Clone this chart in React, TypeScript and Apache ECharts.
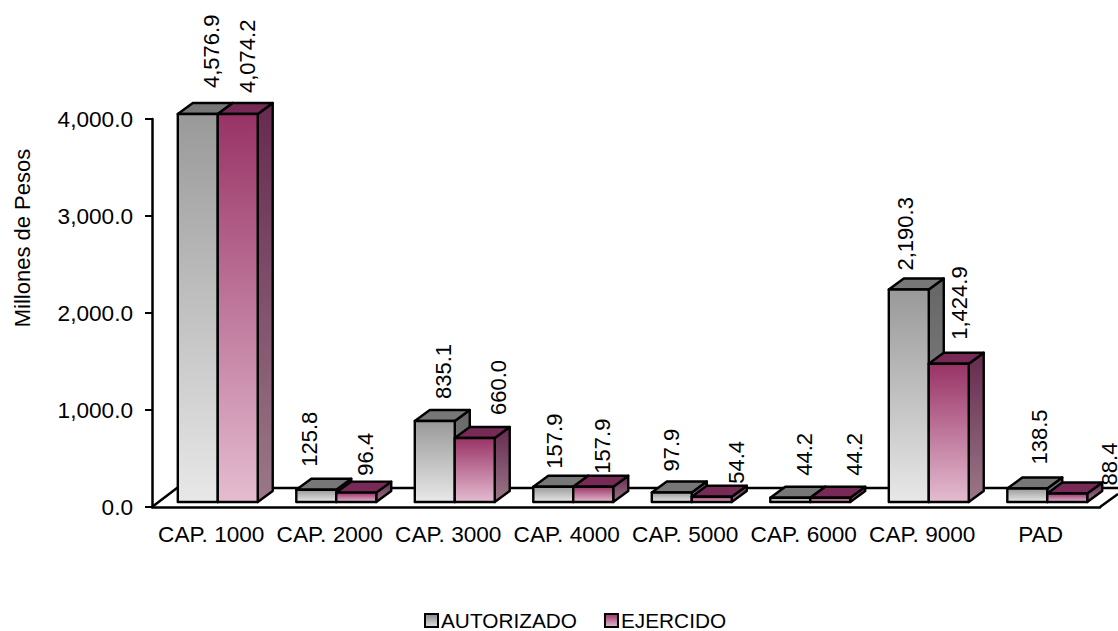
import React, { useEffect, useRef } from "react";
import * as echarts from "echarts";

const categories = ["CAP. 1000", "CAP. 2000", "CAP. 3000", "CAP. 4000", "CAP. 5000", "CAP. 6000", "CAP. 9000", "PAD"];
const autorizado = [4576.9, 125.8, 835.1, 157.9, 97.9, 44.2, 2190.3, 138.5];
const ejercido = [4074.2, 96.4, 660.0, 157.9, 54.4, 44.2, 1424.9, 88.4];
const AXIS_MAX = 4000;

// Hand-placed label nudges of the original chart, in pixels: [dx from bar centre, gap above the bar].
const nudgeA = [[14, 15], [-6.5, 12], [8.5, 11], [1.5, 7], [0, 10], [14.5, 11], [-3.5, 8], [12, 13]];
const nudgeB = [[9.5, 10], [9.5, 6], [23.5, 12], [9.5, 2], [24.5, 2], [24.5, 11], [10.5, 13], [42.5, -3]];

const FONT = "'Liberation Sans', Arial, sans-serif";
const FS = 22;
const AXIS_FS = 22.6;
const DX = 15;
const DY = 11;
const LIFT = 5;

const grad = (top: string, bottom: string) => ({
  type: "linear", x: 0, y: 0, x2: 0, y2: 1,
  colorStops: [{ offset: 0, color: top }, { offset: 1, color: bottom }],
});

const fmt = (v: number) => v.toLocaleString("en-US", { minimumFractionDigits: 1, maximumFractionDigits: 1 });

const barSeries = (name: string, values: number[], slot: number, pal: any, nudges: number[][]) => ({
  type: "custom",
  name,
  z: 3 + slot,
  clip: false,
  encode: { x: 0, y: 1 },
  data: values.map((v, i) => [i, v]),
  renderItem: (_: any, api: any) => {
    const i = api.value(0);
    const v = api.value(1);
    const shown = Math.min(v, AXIS_MAX);
    const [cx, y0] = api.coord([i, 0]);
    const [, y1] = api.coord([i, shown]);
    const band = api.size([1, 0])[0];
    const w = band * 0.3373;
    const l = cx + band * 0.055 + (slot - 1) * w;
    const r = l + w;
    const b = y0 - LIFT;
    const t = y1 - LIFT;
    const line = { stroke: "#000", lineWidth: 2.4, lineJoin: "round" };
    const poly = (points: number[][], fill: any) => ({
      type: "polygon", shape: { points }, style: { fill, ...line },
    });
    const [ndx, gap] = nudges[i];
    return {
      type: "group",
      children: [
        poly([[r, t], [r + DX, t - DY], [r + DX, b - DY], [r, b]], grad(pal.sideTop, pal.sideBottom)),
        poly([[l, t], [l + DX, t - DY], [r + DX, t - DY], [r, t]], pal.top),
        { type: "rect", shape: { x: l, y: t, width: w, height: b - t }, style: { fill: grad(pal.frontTop, pal.frontBottom), ...line } },
        {
          type: "text",
          x: (l + r) / 2 + ndx,
          y: t - DY - gap,
          rotation: Math.PI / 2,
          style: { text: fmt(v), fill: "#000", font: `${FS}px ${FONT}`, textAlign: "left", textVerticalAlign: "middle" },
        },
      ],
    };
  },
});

const floorSeries = {
  type: "custom",
  name: "floor",
  z: 1,
  clip: false,
  silent: true,
  data: [[0, 0]],
  renderItem: (_: any, api: any) => {
    const [cx, y0] = api.coord([0, 0]);
    const [endX] = api.coord([categories.length - 1, 0]);
    const band = api.size([1, 0])[0];
    const left = cx - band / 2;
    const right = endX + band / 2;
    const style = { stroke: "#000", lineWidth: 2.5, fill: "none" };
    return {
      type: "group",
      children: [
        { type: "polyline", shape: { points: [[left, y0], [left + 25, y0 - 19], [right + 18, y0 - 19]] }, style },
        { type: "line", shape: { x1: right, y1: y0, x2: right + 18, y2: y0 - 13 }, style },
      ],
    };
  },
};

const palA = { frontTop: "#999999", frontBottom: "#e8e8e8", sideTop: "#666666", sideBottom: "#8c8c8c", top: "#777777" };
const palB = { frontTop: "#993366", frontBottom: "#e4bcd0", sideTop: "#662a4e", sideBottom: "#9a7888", top: "#772a55" };

export default function App() {
  const ref = useRef<HTMLDivElement>(null);
  useEffect(() => {
    const chart = echarts.init(ref.current!, undefined, { renderer: "svg" });
    chart.setOption({
      animation: false,
      textStyle: { fontFamily: FONT },
      grid: { left: 152, right: 18, top: 119, bottom: 124, containLabel: false, outerBoundsMode: "none" },
      legend: {
        left: 419,
        top: 605,
        itemWidth: 13,
        itemHeight: 13,
        itemGap: 27,
        textStyle: { fontSize: 20.8, fontFamily: FONT, color: "#000", padding: [0, 0, 0, -2] },
        data: [
          { name: "AUTORIZADO", icon: "rect", itemStyle: { color: grad("#888888", "#e0e0e0"), borderColor: "#000", borderWidth: 2 } },
          { name: "EJERCIDO", icon: "rect", itemStyle: { color: grad("#993366", "#e4bcd0"), borderColor: "#000", borderWidth: 2 } },
        ],
      },
      graphic: [{
        type: "text",
        x: 22,
        y: 238,
        rotation: Math.PI / 2,
        style: { text: "Millones de Pesos", fill: "#000", font: `${FS}px ${FONT}`, textAlign: "center", textVerticalAlign: "middle" },
      }],
      xAxis: {
        type: "category",
        data: categories,
        boundaryGap: true,
        axisLine: { lineStyle: { color: "#000", width: 2.5 } },
        axisTick: { length: 7, lineStyle: { color: "#000", width: 2 } },
        axisLabel: { color: "#000", fontSize: AXIS_FS, fontFamily: FONT, margin: 16, interval: 0 },
      },
      yAxis: {
        type: "value",
        min: 0,
        max: AXIS_MAX,
        interval: 1000,
        axisLine: { show: true, lineStyle: { color: "#000", width: 2.5 } },
        axisTick: { show: true, length: 7, lineStyle: { color: "#000", width: 2 } },
        axisLabel: { color: "#000", fontSize: AXIS_FS, fontFamily: FONT, margin: 19, formatter: (v: number) => fmt(v) },
        splitLine: { show: false },
      },
      series: [
        floorSeries,
        barSeries("AUTORIZADO", autorizado, 0, palA, nudgeA),
        barSeries("EJERCIDO", ejercido, 1, palB, nudgeB),
      ],
    });
    return () => chart.dispose();
  }, []);
  return <div ref={ref} style={{ position: "absolute", left: 0, top: 0, width: 1118, height: 631 }} />;
}
